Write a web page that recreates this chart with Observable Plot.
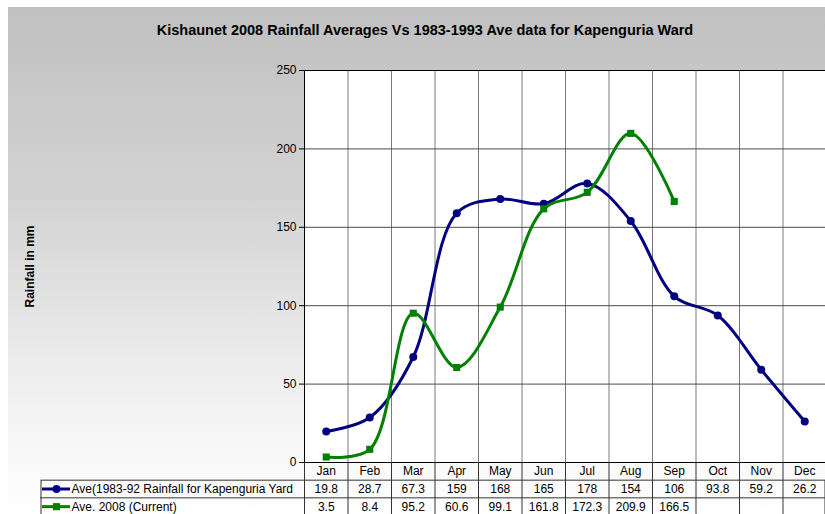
<!DOCTYPE html>
<html>
<head>
<meta charset="utf-8">
<script src="https://cdn.jsdelivr.net/npm/d3@7"></script>
<script src="https://cdn.jsdelivr.net/npm/@observablehq/plot@0.6"></script>
<style>
  html, body { margin: 0; padding: 0; background: #fff; }
  #wrap { position: relative; width: 825px; height: 514px; overflow: hidden; background: #fff;
          font-family: "Liberation Sans", Arial, sans-serif; }
  #bg { position: absolute; left: 8px; top: 7px; right: 0; bottom: 0;
        background: linear-gradient(to bottom, #c0c0c0 0%, #c5c5c5 10%, #d3d3d3 38%, #f2f2f2 78%, #ffffff 100%); }
  #title { position: absolute; left: 0; width: 850px; top: 21px; line-height: 18px; text-align: center;
           font-size: 14.5px; font-weight: bold; color: #000; }
  .layer { position: absolute; left: 0; }
</style>
</head>
<body>
<div id="wrap">
  <div id="bg"></div>
  <div id="title">Kishaunet 2008 Rainfall Averages Vs 1983-1993 Ave data for Kapenguria Ward</div>
</div>
<script>
const months = ["Jan","Feb","Mar","Apr","May","Jun","Jul","Aug","Sep","Oct","Nov","Dec"];
const avgHistorical = [19.8, 28.7, 67.3, 159, 168, 165, 178, 154, 106, 93.8, 59.2, 26.2];
const avg2008 = [3.5, 8.4, 95.2, 60.6, 99.1, 161.8, 172.3, 209.9, 166.5];
const seriesNames = ["Ave(1983-92 Rainfall for Kapenguria Yard", "Ave. 2008 (Current)"];
const yTicks = [0, 50, 100, 150, 200, 250];
const yLabel = "Rainfall in mm";

const navy = "#000080", green = "#008000";
const hist = months.map((m, i) => ({month: m, value: avgHistorical[i]}));
const cur = avg2008.map((v, i) => ({month: months[i], value: v}));

const xRange = [304, 826];
const colW = (xRange[1] - xRange[0]) / months.length;
const font = "'Liberation Sans', Arial, sans-serif";
const fs = 12;

const chart = Plot.plot({
  width: 825, height: 514,
  marginLeft: 304, marginRight: 0, marginTop: 70, marginBottom: 52,
  style: {background: "transparent", fontFamily: font, fontSize: fs + "px", color: "#000", overflow: "visible"},
  x: {type: "point", domain: months, range: xRange, padding: 0.5, round: false, axis: null},
  y: {domain: [0, 250], axis: null},
  marks: [
    Plot.frame({fill: "white", stroke: null}),
    Plot.ruleX(months.slice(1), {x: d => d, dx: -colW / 2, y1: 0, y2: 250, stroke: "#7a7a7a"}),
    Plot.ruleY(yTicks.slice(1, -1), {stroke: "#4a4a4a"}),
    Plot.ruleY([yTicks[0], yTicks[yTicks.length - 1]], {stroke: "#000"}),
    Plot.frame({anchor: "left", stroke: "#000"}),
    Plot.axisY({ticks: yTicks, tickSize: 5, tickPadding: 3, fontSize: fs, label: null, anchor: "left", stroke: "#000"}),
    Plot.text([yLabel], {frameAnchor: "left", textAnchor: "middle", rotate: -90, dx: -274, fontWeight: "bold", fontSize: fs, fill: "#000"}),
    Plot.line(hist, {x: "month", y: "value", stroke: navy, strokeWidth: 3, curve: "catmull-rom"}),
    Plot.dot(hist, {x: "month", y: "value", r: 4, fill: navy, stroke: null}),
    Plot.line(cur, {x: "month", y: "value", stroke: green, strokeWidth: 3, curve: "catmull-rom"}),
    Plot.dot(cur, {x: "month", y: "value", symbol: "square", r: 4, fill: green, stroke: null})
  ]
});
chart.classList.add("layer");
chart.style.top = "0px";
document.getElementById("wrap").appendChild(chart);

const rowH = 53 / 3;
const table = Plot.plot({
  width: 825, height: 52,
  marginLeft: 0, marginRight: 0, marginTop: 0, marginBottom: 0,
  style: {background: "transparent", fontFamily: font, fontSize: fs + "px", color: "#000"},
  x: {type: "point", domain: months, range: xRange, padding: 0.5, round: false, axis: null},
  y: {domain: [0, 3], range: [0, 53], axis: null},
  marks: [
    Plot.ruleX(months, {x: d => d, dx: -colW / 2, y1: 0, y2: 3, stroke: "#333"}),
    Plot.frame({insetLeft: 40.5, insetTop: rowH, insetRight: 0.5, insetBottom: -5, stroke: "#333"}),
    Plot.ruleY([2], {insetLeft: 40, stroke: "#333"}),
    Plot.text(months, {x: d => d, y: 0.5, text: d => d, fontSize: fs, fill: "#000"}),
    Plot.text(hist, {x: "month", y: 1.5, text: d => String(d.value), fontSize: fs, fill: "#000"}),
    Plot.text(cur, {x: "month", y: 2.5, text: d => String(d.value), fontSize: fs, fill: "#000"}),
    Plot.ruleY([1.5], {insetLeft: 42, insetRight: 825 - 70, stroke: navy, strokeWidth: 3}),
    Plot.dot([1.5], {y: d => d, frameAnchor: "left", dx: 56, r: 4, fill: navy, stroke: null}),
    Plot.ruleY([2.5], {insetLeft: 42, insetRight: 825 - 70, stroke: green, strokeWidth: 3}),
    Plot.dot([2.5], {y: d => d, frameAnchor: "left", dx: 56, symbol: "square", r: 4, fill: green, stroke: null}),
    Plot.text(seriesNames, {y: (d, i) => i + 1.5, frameAnchor: "left", dx: 71, textAnchor: "start", fontSize: fs, fill: "#000"})
  ]
});
table.classList.add("layer");
table.style.top = "462px";
document.getElementById("wrap").appendChild(table);
</script>
</body>
</html>
